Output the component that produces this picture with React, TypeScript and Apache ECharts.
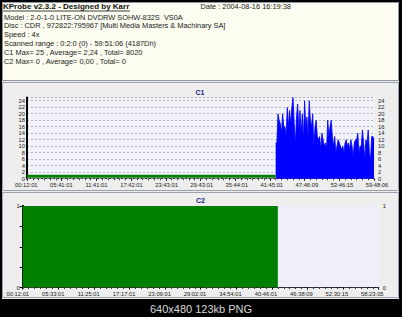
import React, { useEffect, useRef } from "react";
import * as echarts from "echarts";

// ---- data ----
const infoTitle = "KProbe v2.3.2 - Designed by Karr";
const infoDate = "Date : 2004-08-16 16:19:38";
const infoLines = [
  "Model : 2-0-1-0 LITE-ON DVDRW SOHW-832S  VS0A",
  "Disc : CDR , 972822:795967 [Multi Media Masters & Machinary SA]",
  "Speed : 4x",
  "Scanned range : 0:2:0 (0) - 59:51:06 (4187Dh)",
  "C1 Max= 25 , Average= 2,24 , Total= 8020",
  "C2 Max= 0 , Average= 0,00 , Total= 0",
];
const footerText = "640x480 123kb PNG";

const c1TimeLabels = ["00:12:01", "05:41:01", "11:41:01", "17:42:01", "23:43:01", "29:43:01", "35:44:01", "41:45:01", "47:46:09", "53:46:15", "59:48:06"];
const c2TimeLabels = ["00:12:01", "05:33:01", "11:25:01", "17:17:01", "23:09:01", "29:02:01", "34:54:01", "40:46:01", "46:38:09", "52:30:15", "58:23:05"];
const c1YLabels = [0, 2, 4, 6, 8, 10, 12, 14, 16, 18, 20, 22, 24];
const c2YLabels = [0, 1];

const sampleMax = 300; // sample index range of the scan
const c1LowStart = 0;
const c1LowEnd = 215;
const c1LowLevel = 0.75;
const c1BurstStart = 215;
const c1BurstValues = [
  11, 11, 20, 18, 17, 14, 20, 16, 16, 13, 22, 16, 21, 17, 22, 25, 17, 11, 19, 23,
  15, 21, 14, 20, 12, 24, 16, 19, 13, 24, 18, 16, 20, 10, 16, 18, 13, 12, 13, 9,
  14, 12, 10, 11, 9, 18, 13, 16, 18, 13, 10, 13, 8, 10, 12, 11, 10, 9, 10, 8,
  11, 12, 10, 11, 9, 12, 10, 7, 11, 12, 12, 14, 8, 10, 10, 15, 11, 6, 12, 11,
  15, 8, 6, 13, 13, 12,
];
const c2CoverStart = 0;
const c2CoverEnd = 215;
const c2Level = 1;

const FONT = "'Liberation Sans', Arial, sans-serif";
const AX_FONT = 5.8;

export default function App() {
  const ref = useRef<HTMLDivElement>(null);
  useEffect(() => {
    if (!ref.current) return;
    const chart = echarts.init(ref.current, null, { renderer: "svg" });

    const axisLabelStyle = { fontSize: AX_FONT, color: "#222", fontFamily: FONT };

    const c1Grid = { left: 27, right: 28, top: 97.5, bottom: 317 - 178.7 };
    const c2Grid = { left: 22.7, right: 23.3, top: 206, bottom: 317 - 287.5 };

    const graphic: any[] = [
      { type: "rect", z: -20, shape: { x: 2, y: 2, width: 397, height: 297 }, style: { fill: "#ECECEC" } },
      { type: "rect", z: -19, shape: { x: 2.5, y: 2.5, width: 396, height: 78 }, style: { fill: "#FCFCF0", stroke: "#8E96A6", lineWidth: 1 } },
      { type: "rect", z: -19, shape: { x: 2.5, y: 82.5, width: 396, height: 108 }, style: { fill: "#EEEEEE", stroke: "#9AA2B2", lineWidth: 1 } },
      { type: "rect", z: -19, shape: { x: 2.5, y: 192.5, width: 396, height: 105 }, style: { fill: "#EEEEEE", stroke: "#9AA2B2", lineWidth: 1 } },
      { type: "text", x: 3, y: 6.5, style: { text: infoTitle, fill: "#111", font: `bold 8px ${FONT}`, verticalAlign: "middle" } },
      { type: "line", shape: { x1: 3, y1: 11, x2: 130, y2: 11 }, style: { stroke: "#111", lineWidth: 0.8 } },
      { type: "text", x: 200.5, y: 6.5, style: { text: infoDate, fill: "#222", font: `7.4px ${FONT}`, verticalAlign: "middle" } },
      ...infoLines.map((t, i) => ({
        type: "text",
        x: 4,
        y: 17 + i * 8.8,
        style: { text: t, fill: "#222", font: `7.4px ${FONT}`, verticalAlign: "middle" },
      })),
      { type: "text", x: 200, y: 92, style: { text: "C1", fill: "#20208A", font: `bold 7px ${FONT}`, align: "center", verticalAlign: "middle" } },
      { type: "text", x: 200.5, y: 200, style: { text: "C2", fill: "#20208A", font: `bold 7px ${FONT}`, align: "center", verticalAlign: "middle" } },
      { type: "text", x: 201, y: 309, style: { text: footerText, fill: "#D8D8D8", font: `11px ${FONT}`, align: "center", verticalAlign: "middle" } },
    ];

    const burstData = c1BurstValues.map((v, i) => [c1BurstStart + i, v]);

    const hiddenY = (gridIndex: number) => ({
      type: "value", gridIndex, min: 0, max: 1, show: false,
    });

    const option: any = {
      animation: false,
      backgroundColor: "#000",
      graphic,
      grid: [
        { ...c1Grid, show: true, backgroundColor: "#F2F2FB", borderWidth: 0 },
        { left: 26.3, right: 25, top: 97.5, bottom: 317 - 178.7 },
        { ...c2Grid, show: true, backgroundColor: "#EFEFF9", borderWidth: 0 },
        { left: 17.8, right: 29.7, top: 206, bottom: 317 - 287.5 },
      ],
      xAxis: [
        {
          type: "value", gridIndex: 0, min: 0, max: sampleMax, interval: 30,
          axisLine: { lineStyle: { color: "#000", width: 1 } },
          axisTick: { show: true, length: 2, lineStyle: { color: "#000" } },
          minorTick: { show: true, splitNumber: 6, length: 1.5, lineStyle: { color: "#333" } },
          axisLabel: { show: false }, splitLine: { show: false },
        },
        {
          type: "value", gridIndex: 1, min: 0, max: 10, interval: 1,
          axisLine: { show: false }, axisTick: { show: false }, splitLine: { show: false },
          axisLabel: { ...axisLabelStyle, margin: 3.5, formatter: (v: number) => c1TimeLabels[Math.round(v)] ?? "" },
        },
        {
          type: "value", gridIndex: 2, min: 0, max: sampleMax, interval: 30,
          axisLine: { lineStyle: { color: "#000", width: 1, type: [1.5, 1] } },
          axisTick: { show: true, length: 2, lineStyle: { color: "#000" } },
          minorTick: { show: true, splitNumber: 6, length: 1.5, lineStyle: { color: "#333" } },
          axisLabel: { show: false }, splitLine: { show: false },
        },
        {
          type: "value", gridIndex: 3, min: 0, max: 10, interval: 1,
          axisLine: { show: false }, axisTick: { show: false }, splitLine: { show: false },
          axisLabel: { ...axisLabelStyle, margin: 3.5, formatter: (v: number) => c2TimeLabels[Math.round(v)] ?? "" },
        },
        {
          type: "value", gridIndex: 0, position: "top", min: 0, max: sampleMax,
          axisLine: { lineStyle: { color: "#999", width: 1, type: [2, 2] } },
          axisTick: { show: false }, axisLabel: { show: false }, splitLine: { show: false },
        },
        {
          type: "value", gridIndex: 2, position: "top", min: 0, max: sampleMax,
          axisLine: { lineStyle: { color: "#333", width: 1, type: [2, 1.5] } },
          axisTick: { show: false }, axisLabel: { show: false }, splitLine: { show: false },
        },
      ],
      yAxis: [
        {
          type: "value", gridIndex: 0, min: 0, max: 25, interval: 2, position: "left",
          axisLine: { show: true, lineStyle: { color: "#000", width: 2 } },
          axisTick: { show: false },
          axisLabel: { ...axisLabelStyle, margin: 2, formatter: (v: number) => (c1YLabels.includes(v) ? String(v) : "") },
          splitLine: { show: true, lineStyle: { color: "#B4B4BE", width: 1, type: [2, 2] } },
        },
        {
          type: "value", gridIndex: 0, min: 0, max: 25, interval: 2, position: "right",
          axisLine: { show: true, lineStyle: { color: "#000", width: 1 } },
          axisTick: { show: false },
          axisLabel: { ...axisLabelStyle, margin: 4, formatter: (v: number) => (c1YLabels.includes(v) ? String(v) : "") },
          splitLine: { show: false },
        },
        {
          type: "value", gridIndex: 2, min: 0, max: 1, interval: 1, position: "left",
          axisLine: { show: true, lineStyle: { color: "#000", width: 2 } },
          axisTick: { show: true, length: 3, lineStyle: { color: "#000" } },
          axisLabel: { ...axisLabelStyle, margin: 3, formatter: (v: number) => (c2YLabels.includes(v) ? String(v) : "") },
          splitLine: { show: false },
        },
        {
          type: "value", gridIndex: 2, min: 0, max: 1, interval: 1, position: "right",
          axisLine: { show: true, lineStyle: { color: "#000", width: 2 } },
          axisTick: { show: true, inside: true, length: 3, lineStyle: { color: "#000" } },
          minorTick: { show: true, splitNumber: 4, length: 3, lineStyle: { color: "#000" } },
          axisLabel: { ...axisLabelStyle, margin: 4, formatter: (v: number) => (c2YLabels.includes(v) ? String(v) : "") },
          splitLine: { show: false },
        },
        hiddenY(1),
        hiddenY(3),
      ],
      series: [
        {
          type: "line", xAxisIndex: 0, yAxisIndex: 0, symbol: "none",
          data: [[c1LowStart, c1LowLevel], [c1LowEnd, c1LowLevel]],
          lineStyle: { color: "#008000", width: 3 },
          z: 3,
        },
        {
          type: "line", xAxisIndex: 0, yAxisIndex: 0, symbol: "none",
          data: burstData,
          lineStyle: { color: "#0000FF", width: 0.8 },
          areaStyle: { color: "#0000FF", opacity: 1 },
          z: 3,
        },
        {
          type: "line", xAxisIndex: 2, yAxisIndex: 2, symbol: "none",
          data: [[c2CoverStart, c2Level], [c2CoverEnd, c2Level]],
          lineStyle: { width: 0 },
          areaStyle: { color: "#008000", opacity: 1 },
          z: 1,
        },
      ],
    };
    chart.setOption(option);
    return () => chart.dispose();
  }, []);
  return <div ref={ref} style={{ position: "fixed", left: 0, top: 0, width: 402, height: 317 }} />;
}
